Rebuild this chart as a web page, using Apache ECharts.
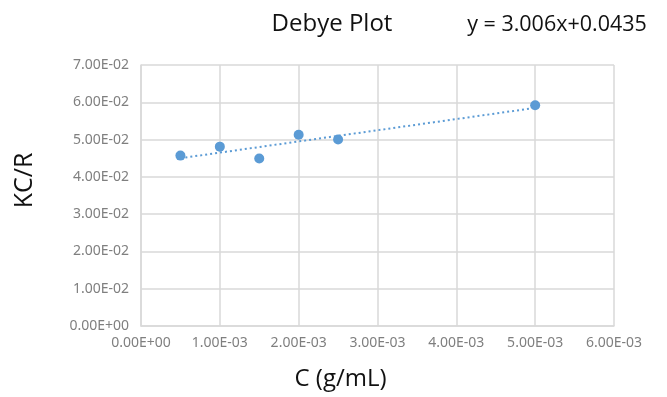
<!DOCTYPE html>
<html lang="en">
<head>
    <meta charset="UTF-8">
    <title>Debye Plot</title>
    <style>
        * { padding: 0; margin: 0; box-sizing: border-box; }
        html, body { width: 100%; height: 100%; overflow: hidden; background: #fff; }
        #box { width: 667px; height: 397px; }
    </style>
</head>
<body>
    <div id="box"></div>
</body>
<script src="https://cdn.jsdelivr.net/npm/echarts@6/dist/echarts.min.js"></script>
<script>
    // concentration C (g/mL) and KC/R values
    var concs = [5e-4, 1e-3, 1.5e-3, 2e-3, 2.5e-3, 5e-3];
    var kcr = [0.0457, 0.0481, 0.0449, 0.0513, 0.0500, 0.0592];
    // linear trendline endpoints, y = 3.006x + 0.0435
    var trendX = [5e-4, 5e-3];
    var trendY = [0.0450, 0.0585];

    var pts = concs.map(function (c, i) { return [c, kcr[i]]; });
    var trend = trendX.map(function (c, i) { return [c, trendY[i]]; });

    // Excel-like scientific labels: 7.00E-02
    var sci = function (v) {
        if (v === 0) return '0.00E+00';
        var s = Number(v).toExponential(2).split('e');
        var e = parseInt(s[1], 10);
        var sign = e < 0 ? '-' : '+';
        var abs = Math.abs(e);
        return s[0] + 'E' + sign + (abs < 10 ? '0' : '') + abs;
    };

    var box = echarts.init(document.getElementById('box'));
    var option = {
        animation: false,
        textStyle: { fontFamily: 'Open Sans' },
        title: [
            {
                text: 'Debye Plot',
                left: 327,
                top: 7,
                textAlign: 'center',
                textStyle: { fontSize: 24, fontWeight: 'normal', color: '#111', fontFamily: 'Open Sans' }
            },
            {
                text: 'y = 3.006x+0.0435',
                left: 552,
                top: 9,
                textAlign: 'center',
                textStyle: { fontSize: 21.5, fontWeight: 'normal', color: '#111', fontFamily: 'Open Sans' }
            }
        ],
        grid: { left: 141, right: 53, top: 65, bottom: 71 },
        xAxis: {
            type: 'value',
            min: 0,
            max: 0.006,
            interval: 0.001,
            name: 'C (g/mL)',
            nameLocation: 'middle',
            nameGap: 41,
            nameTextStyle: { fontSize: 24, color: '#111', fontFamily: 'Open Sans', padding: [0, 74, 0, 0] },
            axisLine: { show: true, lineStyle: { color: '#d9d9d9', width: 1.5 } },
            axisTick: { show: false },
            axisLabel: { formatter: sci, color: '#7f7f7f', fontSize: 14, margin: 10, fontFamily: 'Noto Sans' },
            splitLine: { show: true, lineStyle: { color: '#d9d9d9', width: 1.5 } }
        },
        yAxis: {
            type: 'value',
            min: 0,
            max: 0.07,
            interval: 0.01,
            name: 'KC/R',
            nameLocation: 'middle',
            nameGap: 104,
            nameRotate: 90,
            nameTextStyle: { fontSize: 25, color: '#111', fontFamily: 'Open Sans', padding: [0, 0, 0, 30] },
            axisLine: { show: true, lineStyle: { color: '#d9d9d9', width: 1.5 } },
            axisTick: { show: false },
            axisLabel: { formatter: sci, color: '#7f7f7f', fontSize: 14, margin: 12, fontFamily: 'Noto Sans' },
            splitLine: { show: true, lineStyle: { color: '#d9d9d9', width: 1.5 } }
        },
        series: [
            {
                name: 'trend',
                type: 'line',
                data: trend,
                symbol: 'none',
                lineStyle: { color: '#5b9bd5', width: 2, type: [2, 3] },
                z: 2
            },
            {
                name: 'KC/R',
                type: 'scatter',
                data: pts,
                symbolSize: 10,
                itemStyle: { color: '#5b9bd5', opacity: 1 },
                z: 3
            }
        ]
    };
    box.setOption(option);
</script>
</html>
